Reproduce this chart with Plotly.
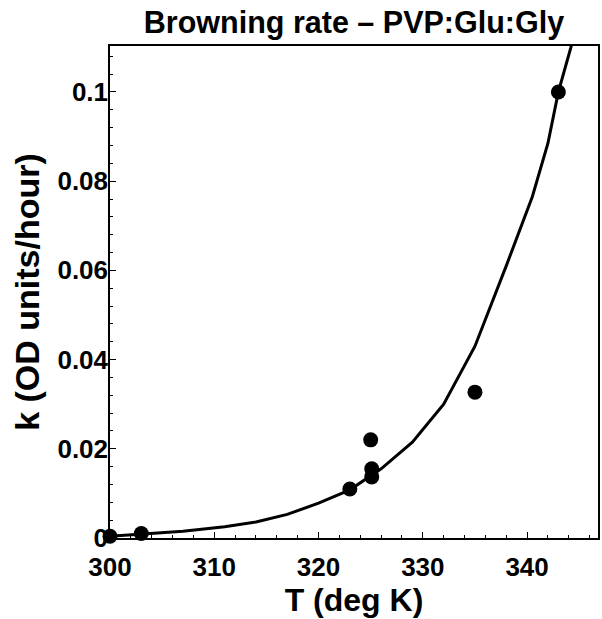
import plotly.graph_objects as go

# Measured browning rate constants
T_obs = [300, 303, 323, 325, 325.1, 325.1, 335, 343]
k_obs = [0.0004, 0.001, 0.011, 0.022, 0.0155, 0.0137, 0.0327, 0.1]

# Fitted Arrhenius curve, sampled points
T_fit = [300, 303, 307, 311, 314, 317, 320, 323, 326, 329, 332, 335, 338,
         340.5, 342, 343, 344.2, 345]
k_fit = [0.0004, 0.0008, 0.0015, 0.0025, 0.0036, 0.0053, 0.0078, 0.0108,
         0.0155, 0.0215, 0.0300, 0.0430, 0.0610, 0.0765, 0.0885, 0.1000,
         0.1100, 0.1180]

x_ticks = [300, 310, 320, 330, 340]
y_ticks = [0, 0.02, 0.04, 0.06, 0.08, 0.1]
y_ticktext = ["0", "0.02", "0.04", "0.06", "0.08", "0.1"]

FONT = "Liberation Sans, Arial, sans-serif"

fig = go.Figure()
fig.add_trace(go.Scatter(
    x=T_fit, y=k_fit, mode="lines",
    line=dict(color="black", width=3),
    showlegend=False, hoverinfo="skip",
))
fig.add_trace(go.Scatter(
    x=T_obs, y=k_obs, mode="markers",
    marker=dict(color="black", size=15),
    cliponaxis=False, showlegend=False,
))

axis_common = dict(
    showgrid=False, zeroline=False,
    showline=True, linecolor="black", linewidth=1.5, mirror=True,
    ticks="inside", ticklen=6, tickwidth=1.2, tickcolor="black",
    tickfont=dict(family=FONT, size=26, color="black", weight="bold"),
)

fig.update_layout(
    width=602, height=619,
    margin=dict(l=110, r=2, t=46, b=81),
    paper_bgcolor="white", plot_bgcolor="white",
    title=dict(
        text="Browning rate – PVP:Glu:Gly",
        font=dict(family=FONT, size=30.5, color="black", weight="bold"),
        x=0.5, xref="paper", xanchor="center",
        y=1 - 22 / 619, yref="container", yanchor="middle",
    ),
    xaxis=dict(
        range=[300, 346.8],
        tickvals=x_ticks,
        ticklabelstandoff=5,
        minor=dict(dtick=2, ticks="inside", ticklen=3, tickcolor="black"),
        title=dict(text="T (deg K)", standoff=0,
                   font=dict(family=FONT, size=32, color="black", weight="bold")),
        **axis_common,
    ),
    yaxis=dict(
        range=[0, 0.1103],
        tickvals=y_ticks, ticktext=y_ticktext,
        ticklabelstandoff=-5,
        minor=dict(dtick=0.004, ticks="inside", ticklen=3, tickcolor="black"),
        title=dict(text="k (OD units/hour)", standoff=8,
                   font=dict(family=FONT, size=34, color="black", weight="bold")),
        **axis_common,
    ),
)

fig.write_html("out.html")
